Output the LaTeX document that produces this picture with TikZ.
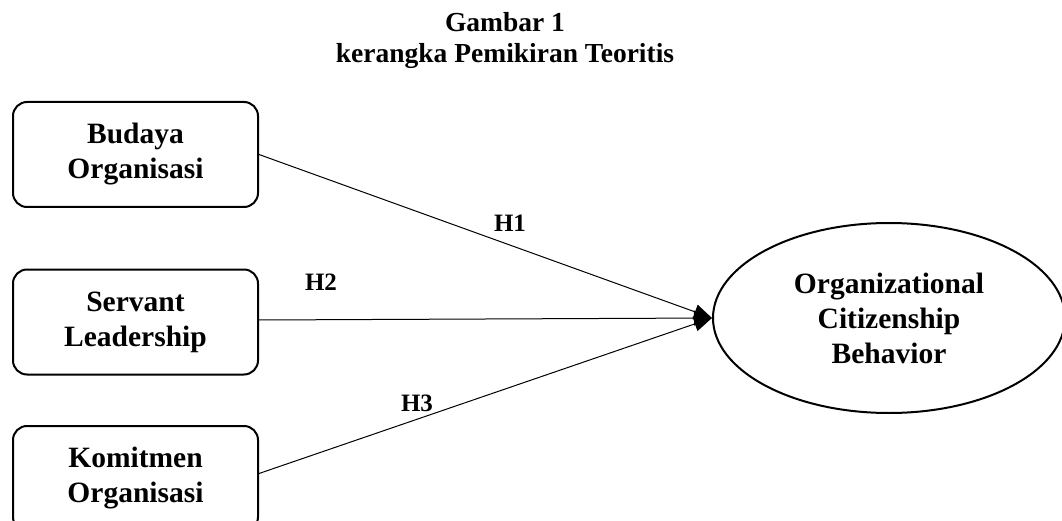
\documentclass[tikz,border=0pt]{standalone}
\usepackage{fontspec}
\setmainfont{Liberation Serif}
\usetikzlibrary{arrows.meta,shapes.geometric}
\begin{document}
\begin{tikzpicture}[x=1pt,y=-1pt,
  box/.style={draw, line width=2pt, rounded corners=14pt, minimum width=245pt, minimum height=105pt, inner sep=0pt, align=center, font=\fontsize{29.5}{35}\selectfont\bfseries},
  oval/.style={draw, ellipse, line width=2pt, minimum width=352pt, minimum height=190pt, inner sep=0pt, align=center, font=\fontsize{29.5}{35}\selectfont\bfseries},
  conn/.style={line width=1pt, -{Triangle[length=18pt,width=15pt]}},
  hlab/.style={font=\fontsize{25}{30}\selectfont\bfseries, inner sep=0pt},
  ttl/.style={font=\fontsize{27.5}{31}\selectfont\bfseries, align=center, inner sep=0pt}]
\useasboundingbox (0,0) rectangle (1062,521);
\clip (0,0) rectangle (1062,521);
\fill[white] (0,0) rectangle (1062,521);
\node[ttl] (title) at (505,40) {Gambar 1\\kerangka Pemikiran Teoritis};
\node[box] (b1) at (135.5,154.5) {Budaya\\Organisasi};
\node[box] (b2) at (135.5,322) {Servant\\Leadership};
\node[box] (b3) at (135.5,478.5) {Komitmen\\Organisasi};
\node[oval] (ocb) at (889,318) {Organizational\\Citizenship\\Behavior};
\draw[conn] (b1.east) -- (ocb.west);
\draw[conn] ([yshift=2pt]b2.east) -- (ocb.west);
\draw[conn] ([yshift=5pt]b3.east) -- (ocb.west);
\node[hlab] (h1) at (510,223) {H1};
\node[hlab] (h2) at (321,282) {H2};
\node[hlab] (h3) at (417,403) {H3};
\end{tikzpicture}
\end{document}
